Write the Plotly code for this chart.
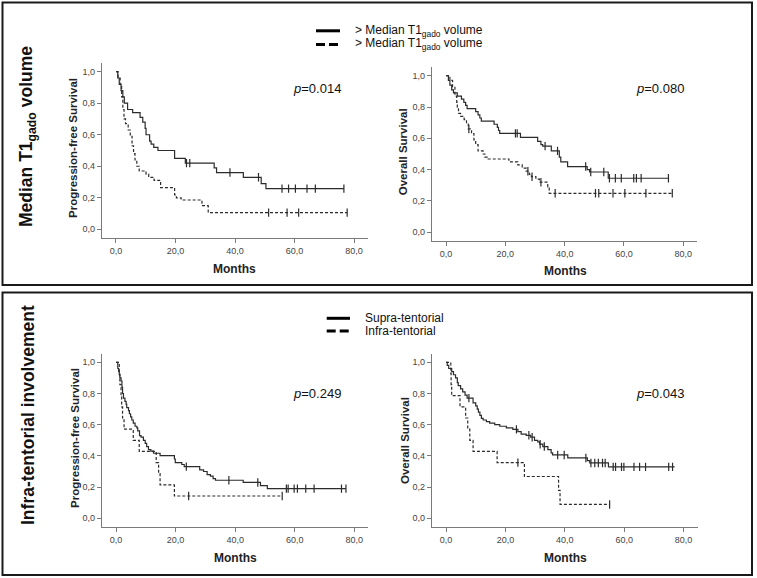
import plotly.graph_objects as go

W, H = 757, 578

# ---------------- data ----------------
# Panel A: PFS by median T1gado volume
pfs_vol_solid_t = [0, 0.6, 1.1, 1.7, 2.3, 2.8, 3.9, 5.6, 8.1, 9.0, 9.8, 10.1, 11.3, 11.8, 12.7, 14.1, 19.7, 23.3, 33.0, 33.8, 42.8, 48.8, 50.4, 76.6]
pfs_vol_solid_s = [1.0, 0.96, 0.92, 0.88, 0.84, 0.80, 0.76, 0.74, 0.71, 0.68, 0.64, 0.60, 0.56, 0.54, 0.52, 0.50, 0.45, 0.42, 0.39, 0.36, 0.33, 0.29, 0.258, 0.258]
pfs_vol_solid_c = [23.7, 24.8, 38.3, 47.9, 55.8, 58.0, 60.3, 64.2, 67.0, 76.6]

pfs_vol_dash_t = [0, 0.7, 1.4, 1.9, 2.3, 2.7, 3.2, 4.1, 4.8, 5.4, 5.9, 6.4, 7.0, 7.8, 10.1, 11.0, 12.8, 15.0, 19.7, 20.3, 21.9, 28.9, 31.0, 77.7]
pfs_vol_dash_s = [1.0, 0.96, 0.92, 0.84, 0.76, 0.70, 0.67, 0.63, 0.59, 0.53, 0.48, 0.44, 0.40, 0.37, 0.35, 0.33, 0.31, 0.264, 0.218, 0.20, 0.186, 0.15, 0.106, 0.106]
pfs_vol_dash_c = [51.3, 57.5, 61.4, 77.7]

# Panel B: OS by median T1gado volume
os_vol_solid_t = [0, 0.8, 1.3, 1.9, 2.5, 3.8, 5.2, 6.0, 6.6, 7.1, 10.0, 10.8, 11.4, 11.9, 16.2, 17.3, 17.7, 18.1, 25.1, 30.9, 32.0, 32.6, 35.5, 38.2, 38.7, 41.0, 47.6, 48.4, 54.7, 75.0]
os_vol_solid_s = [1.0, 0.97, 0.94, 0.91, 0.89, 0.87, 0.85, 0.83, 0.81, 0.79, 0.77, 0.75, 0.73, 0.71, 0.69, 0.67, 0.65, 0.632, 0.606, 0.58, 0.56, 0.55, 0.52, 0.48, 0.45, 0.42, 0.40, 0.385, 0.345, 0.345]
os_vol_solid_c = [23.4, 24.0, 33.4, 37.6, 47.1, 48.8, 53.2, 55.1, 57.1, 59.1, 63.3, 64.2, 65.8, 75.0]

os_vol_dash_t = [0, 1.3, 2.2, 3.0, 3.6, 3.8, 4.2, 4.9, 6.1, 6.9, 7.5, 8.6, 9.4, 10.0, 10.8, 12.5, 13.1, 14.2, 21.2, 24.2, 25.7, 27.0, 28.1, 28.8, 30.3, 31.5, 34.3, 34.8, 76.3]
os_vol_dash_s = [1.0, 0.97, 0.93, 0.87, 0.83, 0.80, 0.76, 0.74, 0.72, 0.70, 0.66, 0.63, 0.59, 0.56, 0.52, 0.50, 0.48, 0.468, 0.45, 0.43, 0.41, 0.39, 0.37, 0.355, 0.34, 0.32, 0.29, 0.249, 0.249]
os_vol_dash_c = [7.7, 27.6, 29.0, 32.0, 36.8, 50.4, 51.5, 56.3, 60.3, 67.4, 76.3]

# Panel C: PFS by infra-tentorial involvement
pfs_inf_solid_t = [0, 0.6, 0.9, 1.1, 1.3, 1.7, 2.0, 2.2, 2.5, 3.0, 3.4, 3.6, 4.2, 4.5, 4.9, 5.3, 5.8, 6.4, 7.0, 7.3, 7.9, 8.4, 9.2, 9.8, 10.3, 10.9, 11.7, 12.6, 14.8, 19.6, 19.9, 22.1, 22.9, 28.1, 29.4, 30.6, 31.7, 32.6, 33.4, 42.7, 48.5, 50.8, 77.2]
pfs_inf_solid_s = [1.0, 0.96, 0.94, 0.92, 0.90, 0.88, 0.84, 0.80, 0.77, 0.75, 0.73, 0.71, 0.69, 0.67, 0.65, 0.63, 0.61, 0.59, 0.58, 0.56, 0.53, 0.52, 0.50, 0.48, 0.46, 0.44, 0.43, 0.417, 0.402, 0.38, 0.357, 0.345, 0.331, 0.31, 0.30, 0.28, 0.27, 0.255, 0.244, 0.23, 0.21, 0.19, 0.19]
pfs_inf_solid_c = [23.6, 37.9, 47.6, 57.2, 57.8, 59.8, 60.9, 63.7, 66.5, 75.7, 77.2]

pfs_inf_dash_t = [0, 1.1, 1.3, 1.7, 1.9, 2.2, 2.7, 5.8, 7.8, 13.5, 14.3, 14.8, 19.6, 55.8]
pfs_inf_dash_s = [1.0, 0.929, 0.857, 0.786, 0.714, 0.643, 0.571, 0.5, 0.429, 0.357, 0.286, 0.214, 0.143, 0.143]
pfs_inf_dash_c = [24.4, 55.8]

# Panel D: OS by infra-tentorial involvement
os_inf_solid_t = [0, 0.4, 0.9, 1.9, 2.5, 3.2, 3.8, 4.1, 4.9, 5.6, 6.4, 7.1, 9.1, 10.0, 10.5, 10.9, 11.4, 11.9, 12.5, 13.6, 14.7, 16.4, 18.1, 20.3, 22.5, 24.2, 25.3, 27.0, 28.5, 29.8, 30.9, 31.5, 32.6, 34.3, 35.4, 35.9, 41.0, 47.6, 48.4, 54.7, 77.0]
os_inf_solid_s = [1.0, 0.98, 0.96, 0.94, 0.92, 0.90, 0.87, 0.85, 0.83, 0.81, 0.79, 0.77, 0.74, 0.72, 0.70, 0.68, 0.66, 0.64, 0.63, 0.62, 0.61, 0.60, 0.59, 0.58, 0.57, 0.555, 0.54, 0.532, 0.52, 0.50, 0.49, 0.475, 0.46, 0.44, 0.42, 0.406, 0.387, 0.37, 0.355, 0.33, 0.33]
os_inf_solid_c = [7.7, 23.7, 27.9, 29.0, 31.7, 33.1, 37.6, 39.8, 47.1, 48.8, 50.1, 51.3, 52.7, 53.6, 56.3, 57.1, 59.1, 59.9, 63.3, 65.2, 67.2, 75.0, 76.3]

os_inf_dash_t = [0, 1.6, 1.7, 1.9, 4.7, 6.6, 7.3, 8.0, 9.1, 17.2, 26.4, 37.9, 38.4, 55.1]
os_inf_dash_s = [1.0, 0.929, 0.857, 0.786, 0.714, 0.643, 0.571, 0.5, 0.429, 0.357, 0.268, 0.179, 0.089, 0.089]
os_inf_dash_c = [24.2, 55.1]

x_tickvals = [0, 20, 40, 60, 80]
x_ticktext = ["0,0", "20,0", "40,0", "60,0", "80,0"]
y_tickvals = [0, 0.2, 0.4, 0.6, 0.8, 1.0]
y_ticktext = ["0,0", "0,2", "0,4", "0,6", "0,8", "1,0"]

p_values = ["0.014", "0.080", "0.249", "0.043"]
y_titles = ["Progression-free Survival", "Overall Survival", "Progression-free Survival", "Overall Survival"]
legend_top = ["> Median T1<sub>gado</sub> volume", "> Median T1<sub>gado</sub> volume"]
legend_bottom = ["Supra-tentorial", "Infra-tentorial"]
row_labels = ["Median T1<sub>gado</sub> volume", "Infra-tentorial involvement"]

# ---------------- layout helpers ----------------
def px(x):
    return x / W

def py(y):
    return 1 - y / H

FONT = "Liberation Sans, Arial, sans-serif"
CURVE = "#2b2b2b"
AXIS = "#7a7a7a"

XR = [-4.8, 84.7]
YR = [-0.055, 1.055]

# pixel boxes for each panel's axes (left, right, top, bottom)
boxes = [
    (101.7, 368.0, 63.0, 238.0),
    (431.8, 697.2, 67.1, 240.9),
    (101.7, 368.3, 353.7, 526.9),
    (431.8, 697.5, 353.7, 526.9),
]

panels = [
    (pfs_vol_solid_t, pfs_vol_solid_s, pfs_vol_solid_c, pfs_vol_dash_t, pfs_vol_dash_s, pfs_vol_dash_c),
    (os_vol_solid_t, os_vol_solid_s, os_vol_solid_c, os_vol_dash_t, os_vol_dash_s, os_vol_dash_c),
    (pfs_inf_solid_t, pfs_inf_solid_s, pfs_inf_solid_c, pfs_inf_dash_t, pfs_inf_dash_s, pfs_inf_dash_c),
    (os_inf_solid_t, os_inf_solid_s, os_inf_solid_c, os_inf_dash_t, os_inf_dash_s, os_inf_dash_c),
]


def step_at(ts, ss, t):
    v = ss[0]
    for ti, si in zip(ts, ss):
        if ti <= t:
            v = si
    return v


fig = go.Figure()
layout = dict(
    width=W, height=H,
    margin=dict(l=0, r=0, t=0, b=0),
    paper_bgcolor="white", plot_bgcolor="white",
    showlegend=False,
    font=dict(family=FONT, color="#333333"),
)

annotations = []
shapes = []

for i, (box, data) in enumerate(zip(boxes, panels)):
    n = i + 1
    xa = "x" if n == 1 else f"x{n}"
    ya = "y" if n == 1 else f"y{n}"
    xkey = "xaxis" if n == 1 else f"xaxis{n}"
    ykey = "yaxis" if n == 1 else f"yaxis{n}"
    l, r, t, b = box
    common = dict(showline=True, linecolor=AXIS, linewidth=1, ticks="outside", ticklen=4,
                  tickcolor=AXIS, tickwidth=1, showgrid=False, zeroline=False,
                  tickfont=dict(size=9, color="#444444", family=FONT), fixedrange=True)
    layout[xkey] = dict(domain=[px(l), px(r)], range=XR, anchor=ya,
                        tickvals=x_tickvals, ticktext=x_ticktext, **common)
    layout[ykey] = dict(domain=[py(b), py(t)], range=YR, anchor=xa,
                        tickvals=y_tickvals, ticktext=y_ticktext, **common)

    st, ss, sc, dt, ds, dc = data
    fig.add_trace(go.Scatter(x=st, y=ss, mode="lines", line=dict(color=CURVE, width=1.2, shape="hv"),
                             xaxis=xa, yaxis=ya, hoverinfo="skip"))
    fig.add_trace(go.Scatter(x=dt, y=ds, mode="lines",
                             line=dict(color=CURVE, width=1.2, shape="hv", dash="3px,2px"),
                             xaxis=xa, yaxis=ya, hoverinfo="skip"))
    fig.add_trace(go.Scatter(x=sc, y=[step_at(st, ss, c) for c in sc], mode="markers",
                             marker=dict(symbol="line-ns", size=6, line=dict(color=CURVE, width=1.2)),
                             xaxis=xa, yaxis=ya, hoverinfo="skip"))
    fig.add_trace(go.Scatter(x=dc, y=[step_at(dt, ds, c) for c in dc], mode="markers",
                             marker=dict(symbol="line-ns", size=6, line=dict(color=CURVE, width=1.2)),
                             xaxis=xa, yaxis=ya, hoverinfo="skip"))

# axis titles, p-values
months_pos = [(235, 268.5), (565, 270.5), (235.5, 558), (565, 558)]
ytitle_pos = [(73, 148), (403.3, 152), (75, 438), (405, 440)]
p_pos = [(316.7, 88.3), (660, 88.3), (316.7, 393.3), (660, 393.3)]
for i in range(4):
    annotations.append(dict(x=px(months_pos[i][0]), y=py(months_pos[i][1]), xref="paper", yref="paper",
                            text="<b>Months</b>", showarrow=False, xanchor="center", yanchor="middle",
                            font=dict(size=12, color="#222222", family=FONT)))
    annotations.append(dict(x=px(ytitle_pos[i][0]), y=py(ytitle_pos[i][1]), xref="paper", yref="paper",
                            text=f"<b>{y_titles[i]}</b>", showarrow=False, textangle=-90,
                            xanchor="center", yanchor="middle",
                            font=dict(size=11.5, color="#222222", family=FONT)))
    annotations.append(dict(x=px(p_pos[i][0]), y=py(p_pos[i][1]), xref="paper", yref="paper",
                            text=f"<i>p</i>={p_values[i]}", showarrow=False, xanchor="center", yanchor="middle",
                            font=dict(size=13, color="#111111", family=FONT)))

# legends
leg_specs = [
    (legend_top, 316, 340, 352.7, [30.8, 44.4]),
    (legend_bottom, 326.7, 350, 363.3, [318.3, 331.0]),
]
for texts, x0, x1, xt, ys in leg_specs:
    for j, (txt, yy) in enumerate(zip(texts, ys)):
        shapes.append(dict(type="line", xref="paper", yref="paper", x0=px(x0), x1=px(x1), y0=py(yy), y1=py(yy),
                           line=dict(color="black", width=3, dash="solid" if j == 0 else "9px,4px")))
        annotations.append(dict(x=px(xt), y=py(yy), xref="paper", yref="paper", text=txt, showarrow=False,
                                xanchor="left", yanchor="middle",
                                font=dict(size=12, color="#111111", family=FONT)))

# row labels
row_pos = [(28, 137), (28, 415)]
for txt, (xx, yy) in zip(row_labels, row_pos):
    annotations.append(dict(x=px(xx), y=py(yy), xref="paper", yref="paper", text=f"<b>{txt}</b>",
                            showarrow=False, textangle=-90, xanchor="center", yanchor="middle",
                            font=dict(size=17.5, color="#111111", family=FONT)))

# panel frames
for (y0, y1) in [(2.5, 285), (292.5, 575)]:
    shapes.append(dict(type="rect", xref="paper", yref="paper", x0=px(2.5), x1=px(752), y0=py(y1), y1=py(y0),
                       line=dict(color="#1a1a1a", width=2), fillcolor="rgba(0,0,0,0)"))

layout["annotations"] = annotations
layout["shapes"] = shapes
fig.update_layout(**layout)
fig.write_html("out.html", config={"displayModeBar": False},
               post_script="document.body.style.margin='0';document.body.style.overflow='hidden';")
